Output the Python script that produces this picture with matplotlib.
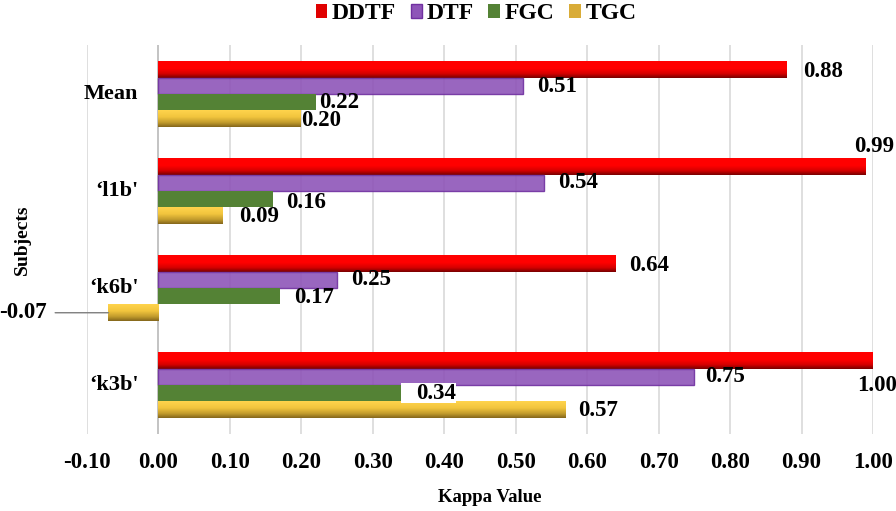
import numpy as np
import matplotlib
matplotlib.use("Agg")
import matplotlib.pyplot as plt
from matplotlib.colors import LinearSegmentedColormap
from matplotlib.patches import Patch, Rectangle

plt.rcParams['font.family'] = ['Liberation Serif', 'DejaVu Serif']
plt.rcParams['font.weight'] = 'bold'

# ---- data ----
categories = ["\u2018k3b'", "\u2018k6b'", "\u2018l1b'", "Mean"]
series_names = ["DDTF", "DTF", "FGC", "TGC"]
ddtf = [1.00, 0.64, 0.99, 0.88]
dtf = [0.75, 0.25, 0.54, 0.51]
fgc = [0.34, 0.17, 0.16, 0.22]
tgc = [0.57, -0.07, 0.09, 0.20]
x_ticks = [-0.10, 0.00, 0.10, 0.20, 0.30, 0.40, 0.50, 0.60, 0.70, 0.80, 0.90, 1.00]

# label offsets in pixels (dx, dy) per series per category
lab_off = {
    "DDTF": [(-16, -25), (13, -2), (-12, 20), (16, -2)],
    "DTF": [(11, 0), (14, 0), (14, 0), (14, -1)],
    "FGC": [(15, 0), (14, -1), (13, -3), (3, 0)],
    "TGC": [(12, -1), (None, None), (16, -1), (0, -2)],
}

fig = plt.figure(figsize=(8.96, 5.11), dpi=100)
ax = fig.add_axes([87/896, 1-433.5/511, (873-87)/896, (433.5-45.5)/511])

y = np.arange(len(categories))
h = 0.17
offsets = [0.255, 0.085, -0.085, -0.255]

grad_red = LinearSegmentedColormap.from_list("r", [(0, "#ff0000"), (0.45, "#ff0000"), (0.75, "#d40000"), (1, "#780000")])
grad_gold = LinearSegmentedColormap.from_list("g", [(0, "#ffd44c"), (0.4, "#f2c53e"), (0.75, "#c09a2c"), (1, "#84661c")])

def gradient_bars(bars, cmap):
    grad = np.linspace(0, 1, 64).reshape(-1, 1)
    for b in bars:
        x0, y0 = b.get_x(), b.get_y()
        w, hh = b.get_width(), b.get_height()
        im = ax.imshow(grad, cmap=cmap, aspect='auto', interpolation='bilinear',
                       extent=[min(x0, x0+w), max(x0, x0+w), y0, y0+hh],
                       origin='upper', zorder=3)
        im.set_clip_path(b)

b1 = ax.barh(y + offsets[0], ddtf, height=h, color="#ff0000", zorder=3, linewidth=0)
gradient_bars(b1, grad_red)
b2 = ax.barh(y + offsets[1], dtf, height=h, color="#8e55b8", alpha=0.9, edgecolor="#7030a0", linewidth=1.0, zorder=3)
b3 = ax.barh(y + offsets[2], fgc, height=h, color="#548235", zorder=3, linewidth=0)
b4 = ax.barh(y + offsets[3], tgc, height=h, color="#e0b53a", zorder=3, linewidth=0)
gradient_bars(b4, grad_gold)

ax.set_xlim(-0.10, 1.00)
ax.set_ylim(-0.5, 3.5)
ax.set_xticks(x_ticks)
ax.set_xticklabels([f"{t:.2f}" for t in x_ticks], fontsize=16.5, fontweight='bold')
ax.tick_params(axis='x', length=0, pad=13)
ax.set_yticks([])
for s in ax.spines.values():
    s.set_visible(False)
ax.grid(axis='x', color="#d9d9d9", linewidth=1.2, zorder=0)
ax.set_axisbelow(True)
ax.axvline(0, color="#bfbfbf", linewidth=1.2, zorder=2)

# category labels next to the zero axis
for yi, c in zip(y, categories):
    ax.annotate(c, xy=(0, yi), xytext=(-20, 0), textcoords='offset pixels',
                ha='right', va='center', fontsize=16, fontweight='bold')

# data labels
all_vals = [ddtf, dtf, fgc, tgc]
for si, name in enumerate(series_names):
    for ci, v in enumerate(all_vals[si]):
        yc = y[ci] + offsets[si]
        dx, dy = lab_off[name][ci]
        if dx is None:
            continue
        if name == "FGC" and ci == 0:
            # white label box sitting in the bar row
            ax.add_patch(Rectangle((v, yc - h * 0.62), 0.077, h * 1.24,
                                   facecolor='white', edgecolor='none', zorder=4))
        ax.annotate(f"{v:.2f}", xy=(v, yc), xytext=(dx, dy), textcoords='offset pixels',
                    ha='left', va='center', fontsize=16.5, fontweight='bold', zorder=5)

# negative TGC label with leader line
neg_ci = 1
neg_v = tgc[neg_ci]
yc = y[neg_ci] + offsets[3]
ax.annotate(f"{neg_v:.2f}", xy=(neg_v, yc), xytext=(23/896, yc), textcoords=('figure fraction', 'data'),
            ha='center', va='center', fontsize=16.5, fontweight='bold', annotation_clip=False,
            arrowprops=dict(arrowstyle='-', color='#7f7f7f', linewidth=1.0, shrinkA=4, shrinkB=0))

fig.text(490/896, 1-497/511, "Kappa Value", ha='center', va='center', fontsize=13.5, fontweight='bold')
fig.text(22/896, 1-240/511, "Subjects", ha='center', va='center', rotation=90, fontsize=14, fontweight='bold')

handles = [Patch(facecolor="#e00000", edgecolor="none"),
           Patch(facecolor="#8e55b8", edgecolor="#7030a0"),
           Patch(facecolor="#548235", edgecolor="none"),
           Patch(facecolor="#d9ac38", edgecolor="none")]
fig.legend(handles, series_names, ncol=4, loc='upper center', bbox_to_anchor=(476/896, 1.035),
           frameon=False, prop={'family': 'Liberation Serif', 'weight': 'bold', 'size': 17},
           handlelength=0.5, handleheight=0.5, handletextpad=0.2, columnspacing=0.6)

fig.savefig("out.png", dpi=100)
